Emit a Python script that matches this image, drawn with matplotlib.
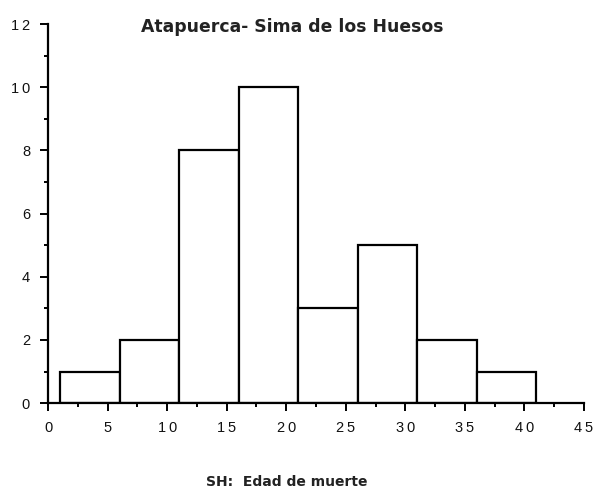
import numpy as np
import matplotlib.pyplot as plt

# histogram data: age at death, Sima de los Huesos
bin_edges = [1, 6, 11, 16, 21, 26, 31, 36, 41]
counts = [1, 2, 8, 10, 3, 5, 2, 1]
x_ticks = [0, 5, 10, 15, 20, 25, 30, 35, 40, 45]
y_ticks = [0, 2, 4, 6, 8, 10, 12]

fig = plt.figure(figsize=(5.94, 4.91), dpi=100)
ax = fig.add_axes([0.081, 0.179, 0.902, 0.772])

widths = np.diff(bin_edges)
ax.bar(bin_edges[:-1], counts, width=widths, align='edge',
       facecolor='white', edgecolor='black', linewidth=1.6)

ax.set_xlim(0, 45)
ax.set_ylim(0, 12)
ax.set_xticks(x_ticks)
ax.set_yticks(y_ticks)
ax.set_xticks(np.arange(2.5, 45, 5), minor=True)
ax.set_yticks(np.arange(1, 12, 2), minor=True)

for s in ['top', 'right']:
    ax.spines[s].set_visible(False)
for s in ['left', 'bottom']:
    ax.spines[s].set_linewidth(1.6)

ax.tick_params(which='major', direction='out', length=6, width=1.4,
               labelsize=10.5, labelcolor='#111111', pad=7)
ax.tick_params(which='minor', direction='out', length=3, width=1.4)

ax.set_xticklabels(['\u2009'.join(str(v)) for v in x_ticks], family='Liberation Sans')
ax.set_yticklabels(['\u2009'.join(str(v)) for v in y_ticks], family='Liberation Sans')

fig.text(0.492, 0.945, 'Atapuerca- Sima de los Huesos', ha='center', va='center',
         fontsize=12.4, fontweight='bold', color='#222222')
fig.text(0.483, 0.018, 'SH:  Edad de muerte', ha='center', va='center',
         fontsize=10, fontweight='bold', color='#222222')

fig.savefig('out.png', dpi=100)
